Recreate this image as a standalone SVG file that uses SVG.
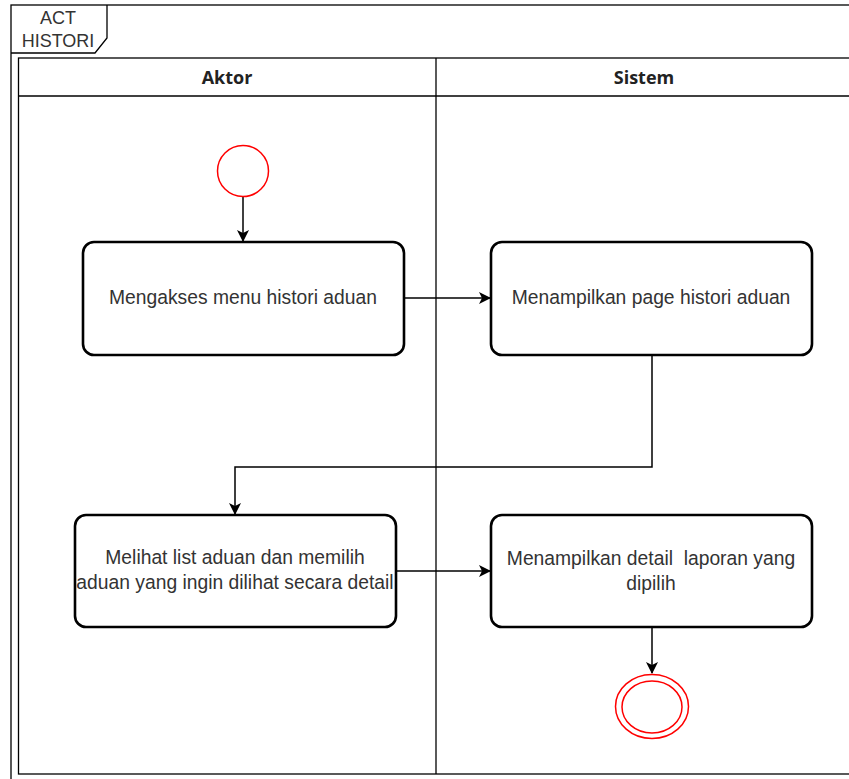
<svg xmlns="http://www.w3.org/2000/svg" width="849" height="779" viewBox="0 0 849 779">
<style>
.frame{fill:none;stroke:#000;stroke-width:1.3}
.lane{fill:none;stroke:#000;stroke-width:1.3}
.box{fill:#fff;stroke:#000;stroke-width:2.6}
.lbl{font-family:"Liberation Sans",Arial,sans-serif;font-size:19.3px;fill:#333;text-anchor:middle}
.ttl{font-family:"Liberation Sans",Arial,sans-serif;font-size:18px;fill:#333;text-anchor:middle}
.hdr{font-family:"Open Sans","Liberation Sans",sans-serif;font-size:18px;font-weight:bold;fill:#222;text-anchor:middle}
.edge{fill:none;stroke:#000;stroke-width:1.5}
.start{fill:#fff;stroke:#ff0000;stroke-width:1.5}
</style>
<defs>
<marker id="arr" viewBox="0 0 12 12" refX="11" refY="6" markerWidth="12" markerHeight="12" markerUnits="userSpaceOnUse" orient="auto">
<path d="M0,0 L12,6 L0,12 L3,6 Z" fill="#000"/>
</marker>
</defs>
<rect width="849" height="779" fill="#fff"/>
<g id="frame">
<rect class="frame" x="11" y="5" width="845" height="785"/>
<path class="frame" d="M11,53 L95,53 L107,38 L107,5"/>
<text class="ttl" x="58" y="24">ACT</text>
<text class="ttl" x="58" y="47">HISTORI</text>
</g>
<g id="pool">
<rect class="lane" x="18.5" y="58" width="840" height="716"/>
<line class="lane" x1="18.5" y1="96" x2="858" y2="96"/>
<line class="lane" x1="436" y1="58" x2="436" y2="774"/>
<text class="hdr" x="227" y="84">Aktor</text>
<text class="hdr" x="644" y="84">Sistem</text>
</g>
<g id="connectors">
<line class="edge" x1="243" y1="197" x2="243" y2="241" marker-end="url(#arr)"/>
<line class="edge" x1="404" y1="298" x2="490" y2="298" marker-end="url(#arr)"/>
<path class="edge" d="M652,355 L652,467 L235,467 L235,514" marker-end="url(#arr)"/>
<line class="edge" x1="396" y1="571" x2="490" y2="571" marker-end="url(#arr)"/>
<line class="edge" x1="652" y1="627" x2="652" y2="673" marker-end="url(#arr)"/>
</g>
<g id="start">
<circle class="start" cx="243" cy="171" r="25.5"/>
</g>
<g id="n1">
<rect class="box" x="83" y="242" width="321" height="113" rx="11"/>
<text class="lbl" x="243" y="304">Mengakses menu histori aduan</text>
</g>
<g id="n2">
<rect class="box" x="491" y="242" width="321" height="113" rx="11"/>
<text class="lbl" x="651" y="304">Menampilkan page histori aduan</text>
</g>
<g id="n3">
<rect class="box" x="75" y="515" width="321" height="112" rx="11"/>
<text class="lbl" x="235" y="564">Melihat list aduan dan memilih</text>
<text class="lbl" x="235" y="589">aduan yang ingin dilihat secara detail</text>
</g>
<g id="n4">
<rect class="box" x="491" y="515" width="321" height="112" rx="11"/>
<text class="lbl" x="651" y="565" xml:space="preserve">Menampilkan detail  laporan yang</text>
<text class="lbl" x="651" y="590">dipilih</text>
</g>
<g id="end">
<ellipse class="start" cx="652" cy="706.5" rx="36.5" ry="32"/>
<ellipse class="start" cx="652" cy="707" rx="30" ry="26"/>
</g>
</svg>
